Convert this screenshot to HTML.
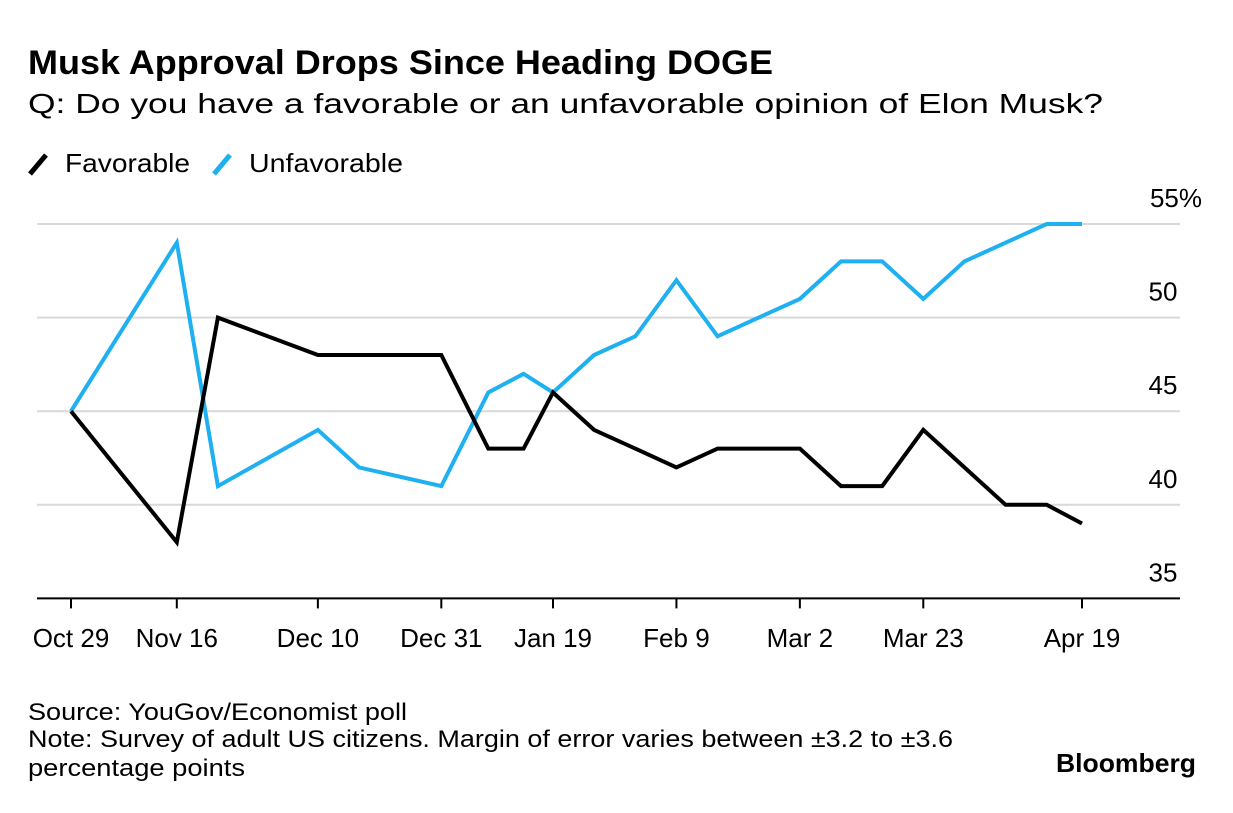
<!DOCTYPE html>
<html><head><meta charset="utf-8"><style>
body{margin:0;background:#fff;font-family:"Liberation Sans",sans-serif;}
svg text{font-family:"Liberation Sans",sans-serif;}
</style></head><body>
<svg id="c" width="1233" height="808">
<text x="28" y="74" font-size="34" font-weight="bold" fill="#000" textLength="745" lengthAdjust="spacingAndGlyphs">Musk Approval Drops Since Heading DOGE</text>
<text x="28" y="113" font-size="28" fill="#000" textLength="1075" lengthAdjust="spacingAndGlyphs">Q: Do you have a favorable or an unfavorable opinion of Elon Musk?</text>
<g>
<line x1="30" y1="174" x2="46" y2="155" stroke="#000" stroke-width="5"/>
<text x="65" y="172" font-size="26" textLength="125" lengthAdjust="spacingAndGlyphs">Favorable</text>
<line x1="214" y1="174" x2="230" y2="155" stroke="#1eb0f0" stroke-width="5"/>
<text x="249" y="172" font-size="26" textLength="154" lengthAdjust="spacingAndGlyphs">Unfavorable</text>
</g>
<g id="grid"></g><g id="xax"></g><g id="lines"></g>
<text x="28" y="720" font-size="24" textLength="379" lengthAdjust="spacingAndGlyphs">Source: YouGov/Economist poll</text>
<text x="28" y="747" font-size="24" textLength="925" lengthAdjust="spacingAndGlyphs">Note: Survey of adult US citizens. Margin of error varies between ±3.2 to ±3.6</text>
<text x="28" y="776" font-size="24" textLength="217" lengthAdjust="spacingAndGlyphs">percentage points</text>
<text x="1196" y="772" font-size="26" font-weight="bold" text-anchor="end" textLength="140" lengthAdjust="spacingAndGlyphs">Bloomberg</text>
</svg>
<script>
const dayOffsets=[0,18,25,42,49,63,71,77,82,89,96,103,110,117,124,131,138,145,152,159,166,172];
const favorable=[45,38,50,48,48,48,43,43,46,44,43,42,43,43,43,41,41,44,42,40,40,39];
const unfavorable=[45,54,41,44,42,41,46,47,46,48,49,52,49,50,51,53,53,51,53,54,55,55];
const xTickDays=[0,18,42,63,82,103,124,145,172];
const xTickLabels=["Oct 29","Nov 16","Dec 10","Dec 31","Jan 19","Feb 9","Mar 2","Mar 23","Apr 19"];
const yTicks=[35,40,45,50,55];
const yTickLabels=["35","40","45","50","55%"];
const NS="http://www.w3.org/2000/svg";
const x=d=>71+d*(1011/172);
const y=v=>224+(55-v)*18.72;
function mk(tag,attrs,parent){const e=document.createElementNS(NS,tag);for(const k in attrs)e.setAttribute(k,attrs[k]);parent.appendChild(e);return e;}
const grid=document.getElementById('grid'),xax=document.getElementById('xax'),lines=document.getElementById('lines');
yTicks.forEach((v,i)=>{
 if(v>35){const l=mk('line',{x1:37,x2:1180,y1:y(v),y2:y(v),stroke:'#d9d9d9','stroke-width':2},grid);
 
 }
 const t=mk('text',{x:v==55?1176:1163,y:y(v)-17,'font-size':26,'text-anchor':'middle'},grid);
 t.textContent=yTickLabels[i];
 
 
});
const ax=mk('line',{x1:37,x2:1180,y1:y(35),y2:y(35),stroke:'#000','stroke-width':2},xax);


xTickDays.forEach((d,i)=>{
 const tk=mk('line',{x1:x(d),x2:x(d),y1:y(35),y2:y(35)+10,stroke:'#000','stroke-width':2},xax);
 
 
 const t=mk('text',{x:x(d),y:647,'font-size':26,'text-anchor':'middle'},xax);
 t.textContent=xTickLabels[i];
 
 
});
function series(vals,color,name){
 const p=vals.map((v,i)=>(i?'L':'M')+x(dayOffsets[i]).toFixed(1)+','+y(v).toFixed(1)).join('');
 const e=mk('path',{d:p,fill:'none',stroke:color,'stroke-width':4,'stroke-linejoin':'miter'},lines);
 
 
}
series(unfavorable,'#1eb0f0','unfavorable-line');
series(favorable,'#000','favorable-line');
</script>
</body></html>
